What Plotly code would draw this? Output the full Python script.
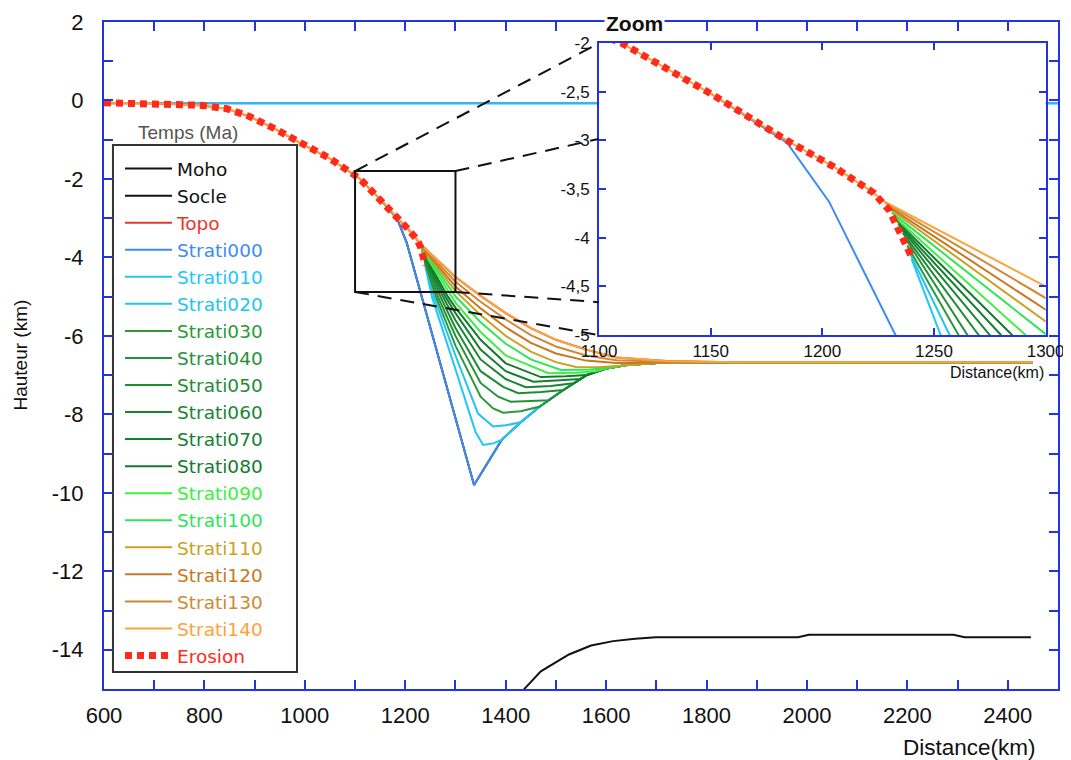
import plotly.graph_objects as go

AXIS_BLUE = "#2233e6"

# ---------------- data ----------------
MOHO_X = [1420, 1437, 1470, 1526, 1570, 1614, 1658, 1699, 1982, 2004, 2292, 2314, 2446]
MOHO_Y = [-15.4, -15.0, -14.55, -14.12, -13.89, -13.78, -13.72, -13.68, -13.68, -13.62, -13.62, -13.68, -13.68]

SEA_X = [600, 2500]
SEA_Y = [-0.07, -0.07]

EROSION_X = [600, 700, 790, 845, 890, 940, 990, 1050, 1110, 1150, 1184, 1205, 1223, 1230, 1240]
EROSION_Y = [-0.06, -0.07, -0.12, -0.21, -0.41, -0.72, -1.08, -1.48, -2.0, -2.52, -3.0, -3.27, -3.54, -3.72, -4.2]

S000_X = [1150, 1184, 1203, 1337, 1392, 1430, 1468, 1515, 1561, 1600, 1641, 1700, 1800, 2450]
S000_Y = [-2.52, -3.02, -3.63, -9.8, -8.65, -8.2, -7.8, -7.38, -7.0, -6.83, -6.74, -6.69, -6.67, -6.67]

SOCLE_X = [1150, 1184, 1203, 1337, 1392, 1430, 1468, 1515, 1561, 1600, 1641, 1700, 1800, 2450]
SOCLE_Y = [-2.52, -3.02, -3.63, -9.8, -8.65, -8.2, -7.8, -7.38, -7.0, -6.83, -6.74, -6.69, -6.67, -6.67]

S010_X = [1240, 1253, 1300, 1340, 1355, 1375, 1392, 1430, 1468, 1515, 1561, 1600, 1641, 1700, 1800, 2450]
S010_Y = [-4.22, -5.0, -6.85, -8.45, -8.78, -8.74, -8.65, -8.2, -7.8, -7.38, -7.0, -6.83, -6.74, -6.69, -6.67, -6.67]

S020_X = [1239, 1257, 1300, 1345, 1375, 1400, 1430, 1468, 1515, 1561, 1600, 1641, 1700, 1800, 2450]
S020_Y = [-4.15, -5.0, -6.5, -7.98, -8.31, -8.28, -8.2, -7.8, -7.38, -7.0, -6.83, -6.74, -6.69, -6.67, -6.67]

S030_X = [1238, 1261, 1300, 1350, 1375, 1395, 1430, 1468, 1515, 1561, 1600, 1641, 1700, 1800, 2450]
S030_Y = [-4.08, -5.0, -6.25, -7.55, -7.85, -7.96, -7.92, -7.8, -7.38, -7.0, -6.83, -6.74, -6.69, -6.67, -6.67]

S040_X = [1237, 1265, 1300, 1350, 1385, 1410, 1450, 1485, 1515, 1561, 1600, 1641, 1700, 1800, 2450]
S040_Y = [-4.0, -5.0, -6.0, -7.2, -7.55, -7.68, -7.66, -7.64, -7.38, -7.0, -6.83, -6.74, -6.69, -6.67, -6.67]

S050_X = [1236, 1270, 1300, 1350, 1395, 1425, 1470, 1515, 1561, 1600, 1641, 1700, 1800, 2450]
S050_Y = [-3.95, -5.0, -5.8, -6.9, -7.3, -7.46, -7.43, -7.38, -7.0, -6.83, -6.74, -6.69, -6.67, -6.67]

S060_X = [1235, 1275, 1300, 1350, 1400, 1440, 1490, 1535, 1561, 1600, 1641, 1700, 1800, 2450]
S060_Y = [-3.9, -5.0, -5.6, -6.6, -7.1, -7.31, -7.28, -7.21, -7.0, -6.83, -6.74, -6.69, -6.67, -6.67]

S070_X = [1234, 1280, 1300, 1350, 1400, 1455, 1500, 1548, 1561, 1600, 1641, 1700, 1800, 2450]
S070_Y = [-3.86, -5.0, -5.42, -6.35, -6.9, -7.17, -7.14, -7.1, -7.0, -6.83, -6.74, -6.69, -6.67, -6.67]

S080_X = [1233, 1285, 1300, 1350, 1400, 1470, 1520, 1561, 1600, 1641, 1700, 1800, 2450]
S080_Y = [-3.82, -5.0, -5.28, -6.1, -6.7, -7.05, -7.03, -7.0, -6.83, -6.74, -6.69, -6.67, -6.67]

S090_X = [1232, 1291, 1300, 1350, 1400, 1485, 1540, 1580, 1600, 1641, 1700, 1800, 2450]
S090_Y = [-3.78, -5.0, -5.15, -5.9, -6.5, -6.95, -6.94, -6.9, -6.83, -6.74, -6.69, -6.67, -6.67]

S100_X = [1231, 1300, 1350, 1400, 1450, 1510, 1570, 1610, 1641, 1700, 1800, 2450]
S100_Y = [-3.74, -4.99, -5.65, -6.2, -6.6, -6.87, -6.86, -6.81, -6.74, -6.69, -6.67, -6.67]

S110_X = [1230, 1300, 1350, 1400, 1450, 1500, 1540, 1585, 1620, 1700, 1800, 2450]
S110_Y = [-3.7, -4.86, -5.47, -6.0, -6.4, -6.67, -6.79, -6.8, -6.77, -6.69, -6.67, -6.67]

S120_X = [1229, 1300, 1350, 1400, 1450, 1500, 1560, 1620, 1720, 1800, 2450]
S120_Y = [-3.67, -4.74, -5.3, -5.78, -6.18, -6.45, -6.63, -6.69, -6.68, -6.67, -6.67]

S130_X = [1228, 1300, 1350, 1400, 1450, 1500, 1560, 1620, 1720, 1800, 2450]
S130_Y = [-3.64, -4.62, -5.13, -5.58, -5.98, -6.27, -6.5, -6.62, -6.66, -6.67, -6.67]

S140_X = [600, 700, 790, 845, 890, 940, 990, 1050, 1110, 1150, 1184, 1205, 1223, 1227,
          1300, 1350, 1400, 1450, 1500, 1560, 1620, 1720, 1850, 2450]
S140_Y = [-0.06, -0.07, -0.12, -0.21, -0.41, -0.72, -1.08, -1.48, -2.0, -2.52, -3.0, -3.27, -3.54, -3.62,
          -4.5, -4.98, -5.42, -5.8, -6.1, -6.35, -6.55, -6.64, -6.67, -6.67]

TOPO_X = S140_X
TOPO_Y = S140_Y

STRATI = [
    ("Strati000", S000_X, S000_Y, "#3d8bf5"),
    ("Strati010", S010_X, S010_Y, "#1fc6f7"),
    ("Strati020", S020_X, S020_Y, "#22c4ee"),
    ("Strati030", S030_X, S030_Y, "#2a9a3a"),
    ("Strati040", S040_X, S040_Y, "#24923a"),
    ("Strati050", S050_X, S050_Y, "#1e8c35"),
    ("Strati060", S060_X, S060_Y, "#198533"),
    ("Strati070", S070_X, S070_Y, "#157f30"),
    ("Strati080", S080_X, S080_Y, "#127a2e"),
    ("Strati090", S090_X, S090_Y, "#3df03d"),
    ("Strati100", S100_X, S100_Y, "#2ee65a"),
    ("Strati110", S110_X, S110_Y, "#c8a225"),
    ("Strati120", S120_X, S120_Y, "#c87822"),
    ("Strati130", S130_X, S130_Y, "#d08a35"),
    ("Strati140", S140_X, S140_Y, "#ffa23a"),
]

MAIN_X_TICKS = list(range(600, 2501, 100))
MAIN_X_TEXT = [str(v) if v % 200 == 0 else "" for v in MAIN_X_TICKS]
MAIN_Y_TICKS = list(range(-15, 3))
MAIN_Y_TEXT = [str(v) if v % 2 == 0 else "" for v in MAIN_Y_TICKS]

INSET_X_TICKS = [1100, 1150, 1200, 1250, 1300]
INSET_X_TEXT = ["1100", "1150", "1200", "1250", "1300"]
INSET_Y_TICKS = [-2, -2.5, -3, -3.5, -4, -4.5, -5]
INSET_Y_TEXT = ["-2", "-2,5", "-3", "-3,5", "-4", "-4,5", "-5"]

EROSION_RED = "#ff2a1a"
EROSION_DASH = "7px,5px"


def lbl(text, color):
    return f'<span style="color:{color}">{text}</span>'


fig = go.Figure()

# sea level line (beneath everything)
fig.add_trace(go.Scatter(x=SEA_X, y=SEA_Y, mode="lines", line=dict(color="#35b4f2", width=2.5),
                         showlegend=False, hoverinfo="skip"))

fig.add_trace(go.Scatter(x=MOHO_X, y=MOHO_Y, mode="lines", name=lbl("Moho", "#111111"),
                         line=dict(color="#111111", width=2)))
fig.add_trace(go.Scatter(x=SOCLE_X, y=SOCLE_Y, mode="lines", name=lbl("Socle", "#111111"),
                         line=dict(color="#111111", width=2)))
fig.add_trace(go.Scatter(x=TOPO_X, y=TOPO_Y, mode="lines", name=lbl("Topo", "#e8372a"),
                         line=dict(color="#e8372a", width=2)))
for name, xs, ys, col in STRATI:
    fig.add_trace(go.Scatter(x=xs, y=ys, mode="lines", name=lbl(name, col),
                             line=dict(color=col, width=2)))
fig.add_trace(go.Scatter(x=EROSION_X, y=EROSION_Y, mode="lines", name=lbl("Erosion", EROSION_RED),
                         line=dict(color=EROSION_RED, width=7, dash=EROSION_DASH)))

# inset copies
for name, xs, ys, col in STRATI:
    fig.add_trace(go.Scatter(x=xs, y=ys, mode="lines", showlegend=False, xaxis="x2", yaxis="y2",
                             line=dict(color=col, width=2)))
fig.add_trace(go.Scatter(x=EROSION_X, y=EROSION_Y, mode="lines", showlegend=False, xaxis="x2", yaxis="y2",
                         line=dict(color=EROSION_RED, width=7, dash=EROSION_DASH)))

tick_font = dict(family="Liberation Sans, Arial, sans-serif", size=22, color="#111111")
inset_font = dict(family="Liberation Sans, Arial, sans-serif", size=17, color="#111111")

# The page body adds an 8px offset; the figure is sized so the plot lands where the reference has it.
fig.update_layout(
    width=1063, height=752,
    margin=dict(l=96, r=13, t=14, b=71),
    paper_bgcolor="white", plot_bgcolor="white",
    font=dict(family="Liberation Sans, Arial, sans-serif", color="#111111"),
    xaxis=dict(range=[600, 2500], tickvals=MAIN_X_TICKS, ticktext=MAIN_X_TEXT,
               ticks="inside", ticklen=9, tickwidth=2, tickcolor=AXIS_BLUE,
               showline=True, linecolor=AXIS_BLUE, linewidth=2, mirror="ticks",
               showgrid=False, zeroline=False, tickfont=tick_font, ticklabelstandoff=6,
               automargin=False),
    yaxis=dict(range=[-15, 2], tickvals=MAIN_Y_TICKS, ticktext=MAIN_Y_TEXT,
               ticks="inside", ticklen=9, tickwidth=2, tickcolor=AXIS_BLUE,
               showline=True, linecolor=AXIS_BLUE, linewidth=2, mirror="ticks",
               showgrid=False, zeroline=False, tickfont=tick_font, ticklabelstandoff=14,
               automargin=False),
    xaxis2=dict(domain=[0.519, 0.987], anchor="y2", range=[1100, 1300],
                tickvals=INSET_X_TICKS, ticktext=INSET_X_TEXT,
                ticks="inside", ticklen=7, tickwidth=2, tickcolor=AXIS_BLUE,
                showline=True, linecolor=AXIS_BLUE, linewidth=2, mirror="ticks",
                showgrid=False, zeroline=False, tickfont=inset_font, ticklabelstandoff=0,
                automargin=False),
    yaxis2=dict(domain=[0.5307, 0.9685], anchor="x2", range=[-5, -2],
                tickvals=INSET_Y_TICKS, ticktext=INSET_Y_TEXT,
                ticks="inside", ticklen=7, tickwidth=2, tickcolor=AXIS_BLUE,
                showline=True, linecolor=AXIS_BLUE, linewidth=2, mirror="ticks",
                showgrid=False, zeroline=False, tickfont=inset_font, ticklabelstandoff=4,
                automargin=False),
    legend=dict(x=0.0168, y=0.808, xanchor="left", yanchor="top",
                bgcolor="rgba(0,0,0,0)", borderwidth=0, tracegroupgap=0, itemwidth=47,
                font=dict(family="DejaVu Sans, Arial, sans-serif", size=18.5)),
    showlegend=True,
)

shapes = [
    # legend frame
    dict(type="rect", xref="paper", yref="paper", x0=0.0094, x1=0.2023, y0=0.0255, y1=0.8156,
         line=dict(color="#333333", width=2), fillcolor="white", layer="below"),
    # zoom box
    dict(type="rect", xref="x", yref="y", x0=1100, x1=1300, y0=-4.88, y1=-1.8,
         line=dict(color="#111111", width=2), layer="above"),
]
DASH_LINES = [((1100, -1.8), (1585, 1.45)), ((1300, -1.8), (1585, -0.98)),
              ((1100, -4.88), (1585, -5.98)), ((1300, -4.88), (1585, -5.14))]
for (x0, y0), (x1, y1) in DASH_LINES:
    shapes.append(dict(type="line", xref="x", yref="y", x0=x0, y0=y0, x1=x1, y1=y1,
                       line=dict(color="#111111", width=2, dash="14px,9px"), layer="above"))
fig.update_layout(shapes=shapes)

fig.add_annotation(text="Temps (Ma)", xref="paper", yref="paper", x=0.088, y=0.8345,
                   xanchor="center", yanchor="middle", showarrow=False,
                   font=dict(size=19, color="#555555"))
fig.add_annotation(text="Hauteur (km)", xref="paper", yref="paper", x=-0.088, y=0.5,
                   xanchor="center", yanchor="middle", showarrow=False, textangle=-90,
                   font=dict(size=19, color="#111111"))
fig.add_annotation(text="Distance(km)", xref="paper", yref="paper", x=0.979, y=-0.087,
                   xanchor="right", yanchor="middle", showarrow=False,
                   font=dict(size=22.5, color="#111111"))
fig.add_annotation(text="Distance(km)", xref="paper", yref="paper", x=0.987, y=0.475,
                   xanchor="right", yanchor="middle", showarrow=False,
                   font=dict(size=16, color="#111111"))
fig.add_annotation(text="<b>Zoom</b>", xref="paper", yref="paper", x=0.556, y=0.9985,
                   xanchor="center", yanchor="middle", showarrow=False,
                   bgcolor="white", borderpad=1,
                   font=dict(size=21, color="#111111"))

fig.write_html("out.html")
